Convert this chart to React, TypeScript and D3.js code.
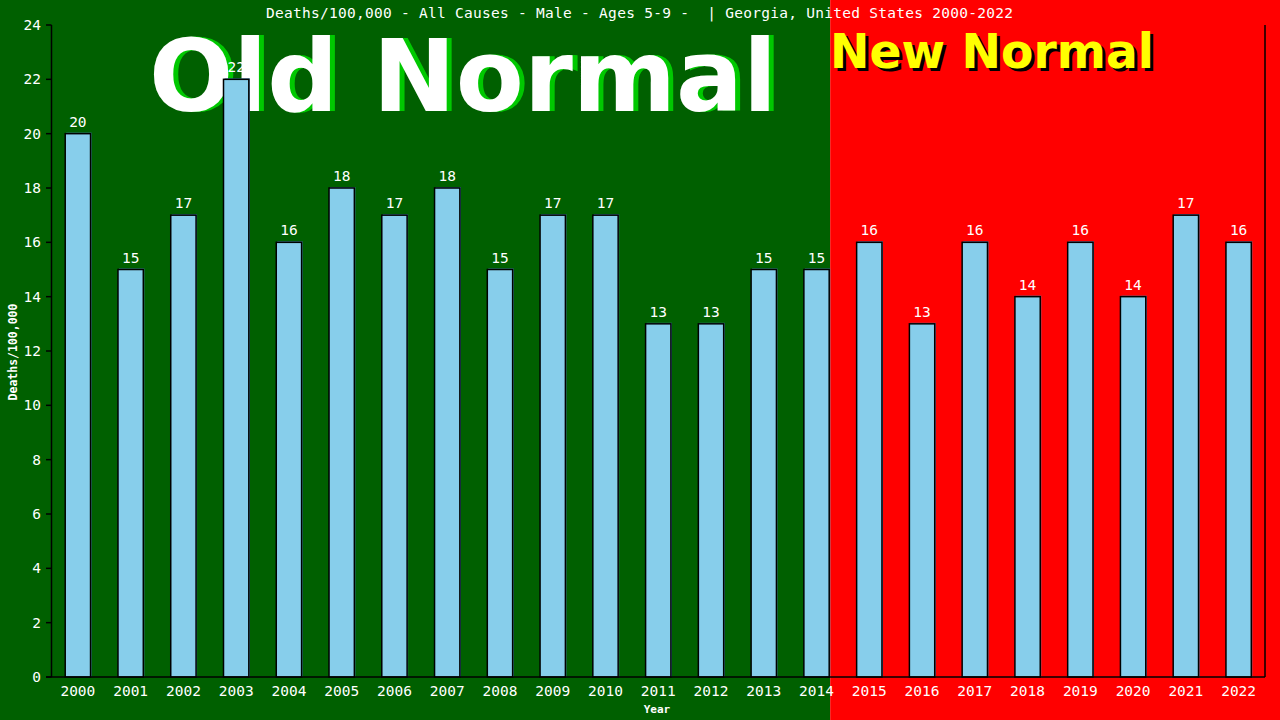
import React from "react";
import * as d3 from "d3";

const years = ["2000","2001","2002","2003","2004","2005","2006","2007","2008","2009","2010","2011","2012","2013","2014","2015","2016","2017","2018","2019","2020","2021","2022"];
const values = [20,15,17,22,16,18,17,18,15,17,17,13,13,15,15,16,13,16,14,16,14,17,16];
const yTicks = [0,2,4,6,8,10,12,14,16,18,20,22,24];
const title = "Deaths/100,000 - All Causes - Male - Ages 5-9 -  | Georgia, United States 2000-2022";
const lastOldYear = "2014";

const W = 1280, H = 720;
const left = 51.5, right = 1265, top = 25, bottom = 677;
const mono = "'DejaVu Sans Mono', monospace";

export default function App() {
  const x = d3.scaleBand<string>().domain(years).range([left, right]).paddingInner(0.52).paddingOuter(0.26);
  const y = d3.scaleLinear().domain([0, 24]).range([bottom, top]);
  const splitX = x(lastOldYear)! + x.bandwidth() + 1;
  return (
    <svg width={W} height={H} style={{ position: "absolute", left: 0, top: 0 }}>
      <rect x={0} y={0} width={splitX} height={H} fill="#006000" />
      <rect x={splitX} y={0} width={W - splitX} height={H} fill="#ff0000" />
      <text x={266} y={18} fill="#fff" fontFamily={mono} fontSize={14.5} textLength={747} lengthAdjust="spacing" style={{ whiteSpace: "pre" }}>{title}</text>
      <g fontFamily="'DejaVu Sans', sans-serif" fontWeight="bold" fontSize={100}>
        <text x={154} y={111} fill="#00c800" textLength={628} lengthAdjust="spacingAndGlyphs">Old Normal</text>
        <text x={149} y={111} fill="#fff" textLength={628} lengthAdjust="spacingAndGlyphs">Old Normal</text>
      </g>
      <g fontFamily="'DejaVu Sans', sans-serif" fontWeight="bold" fontSize={48}>
        <text x={833} y={71} fill="#000" textLength={324} lengthAdjust="spacingAndGlyphs">New Normal</text>
        <text x={830} y={68} fill="#ffff00" textLength={324} lengthAdjust="spacingAndGlyphs">New Normal</text>
      </g>
      {years.map((yr, i) => {
        const bx = x(yr)!;
        const bw = x.bandwidth();
        const by = y(values[i]);
        return (
          <g key={yr}>
            <rect x={bx + 1} y={by - 1} width={bw} height={bottom - by + 1} fill="#4682b4" />
            <rect x={bx} y={by} width={bw} height={bottom - by} fill="#87ceeb" stroke="#000" strokeWidth={1.5} />
            <text x={bx + bw / 2} y={by - 7} fill="#fff" fontFamily={mono} fontSize={14.5} textAnchor="middle">{values[i]}</text>
            <text x={bx + bw / 2} y={696} fill="#fff" fontFamily={mono} fontSize={14.5} textAnchor="middle">{yr}</text>
          </g>
        );
      })}
      <line x1={left} x2={left} y1={top} y2={bottom} stroke="#000" strokeWidth={1.5} />
      <line x1={right} x2={right} y1={top} y2={bottom} stroke="#000" strokeWidth={1.5} />
      <line x1={46} x2={right} y1={bottom} y2={bottom} stroke="#000" strokeWidth={1.5} />
      {yTicks.map(t => (
        <g key={t}>
          <line x1={46} x2={left} y1={y(t)} y2={y(t)} stroke="#000" strokeWidth={1.5} />
          <text x={41} y={y(t) + 5} fill="#fff" fontFamily={mono} fontSize={14.5} textAnchor="end">{t}</text>
        </g>
      ))}
      <text x={657} y={713} fill="#fff" fontFamily={mono} fontSize={11} fontWeight="bold" textAnchor="middle">Year</text>
      <text transform="translate(17,352) rotate(-90)" fill="#fff" fontFamily={mono} fontSize={11.5} fontWeight="bold" textAnchor="middle">Deaths/100,000</text>
    </svg>
  );
}
